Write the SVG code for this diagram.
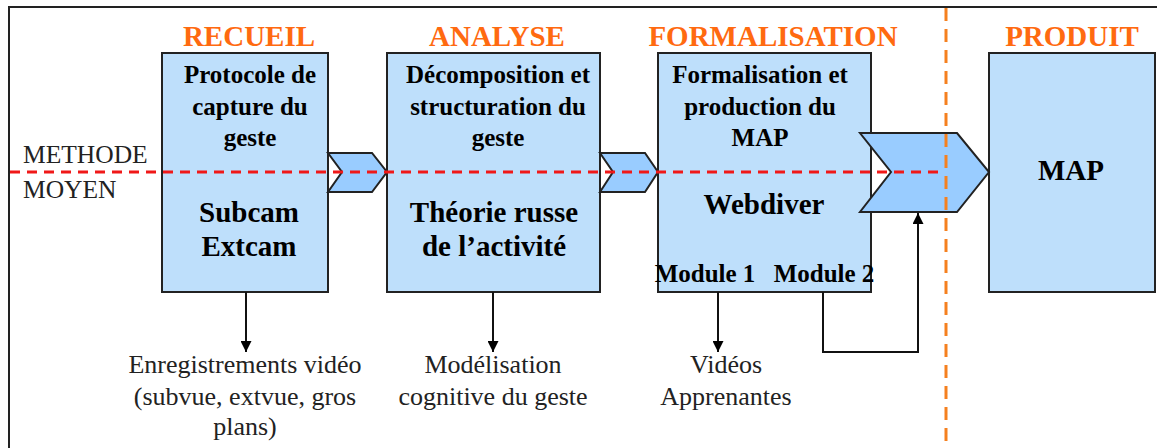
<svg xmlns="http://www.w3.org/2000/svg" width="1157" height="448" viewBox="0 0 1157 448">
<defs>
<style>
.box{fill:#BEDFFB;stroke:#222;stroke-width:2}
.chev{fill:#99CCFF;stroke:#222;stroke-width:2;stroke-linejoin:miter}
.title{font-family:"Liberation Serif",serif;font-weight:bold;font-size:29px;fill:#FF6A10;text-anchor:middle}
.bt{font-family:"Liberation Serif",serif;font-weight:bold;font-size:25px;fill:#000;text-anchor:middle}
.bb{font-family:"Liberation Serif",serif;font-weight:bold;font-size:29px;fill:#000;text-anchor:middle}
.lab{font-family:"Liberation Serif",serif;font-size:26px;fill:#222;text-anchor:middle}
.side{font-family:"Liberation Serif",serif;font-size:25.5px;fill:#222}
.conn{fill:none;stroke:#111;stroke-width:2}
</style>
<marker id="ah" viewBox="0 0 10 10" refX="10" refY="5" markerWidth="5.5" markerHeight="5.5" markerUnits="strokeWidth" orient="auto">
<path d="M0,0 L10,5 L0,10 z" fill="#000"/>
</marker>
</defs>
<rect x="0" y="0" width="1157" height="448" fill="#fff"/>
<rect x="9" y="7" width="1160" height="460" fill="none" stroke="#222" stroke-width="2"/>

<g id="titles">
<text class="title" x="249" y="46">RECUEIL</text>
<text class="title" x="497" y="46">ANALYSE</text>
<text class="title" x="773" y="46">FORMALISATION</text>
<text class="title" x="1072" y="46">PRODUIT</text>
</g>

<g id="side-labels">
<text class="side" x="23" y="163">METHODE</text>
<text class="side" x="23" y="198">MOYEN</text>
</g>

<g id="node-recueil">
<rect class="box" x="162" y="53" width="166" height="239"/>
<text class="bt" x="250" y="83">Protocole de</text>
<text class="bt" x="250" y="115">capture du</text>
<text class="bt" x="250" y="146">geste</text>
<text class="bb" x="249" y="222">Subcam</text>
<text class="bb" x="249" y="256">Extcam</text>
</g>

<g id="node-analyse">
<rect class="box" x="387" y="53" width="213" height="239"/>
<text class="bt" x="498" y="83">Décomposition et</text>
<text class="bt" x="498" y="115">structuration du</text>
<text class="bt" x="498" y="146">geste</text>
<text class="bb" x="494" y="222">Théorie russe</text>
<text class="bb" x="494" y="256">de l’activité</text>
</g>

<g id="node-formalisation">
<rect class="box" x="658" y="53" width="213" height="239"/>
<text class="bt" x="760" y="83">Formalisation et</text>
<text class="bt" x="760" y="115">production du</text>
<text class="bt" x="760" y="146">MAP</text>
<text class="bb" x="764" y="214">Webdiver</text>
<text class="bt" x="705" y="282">Module 1</text>
<text class="bt" x="824" y="282">Module 2</text>
</g>

<g id="node-produit">
<rect class="box" x="989" y="53" width="166" height="239"/>
<text class="bb" x="1071" y="180">MAP</text>
</g>

<g id="chevrons">
<polygon class="chev" points="328,153 372,153 387,172 372,192 328,192 342,172"/>
<polygon class="chev" points="600,153 645,153 658,172 645,192 600,192 613,172"/>
<polygon class="chev" points="860,133 957,133 989,172 957,212 860,212 891,172"/>
</g>

<g id="guides">
<line x1="10" y1="172" x2="940" y2="172" stroke="#F01818" stroke-width="3" stroke-dasharray="10,7"/>
<line x1="946" y1="8" x2="946" y2="448" stroke="#F5801F" stroke-width="3" stroke-dasharray="13,8"/>
</g>

<g id="connectors">
<line class="conn" x1="246" y1="292" x2="246" y2="352" marker-end="url(#ah)"/>
<line class="conn" x1="493" y1="292" x2="493" y2="352" marker-end="url(#ah)"/>
<line class="conn" x1="718" y1="292" x2="718" y2="352" marker-end="url(#ah)"/>
<polyline class="conn" points="823,292 823,352 918,352 918,213" marker-end="url(#ah)"/>
</g>

<g id="outputs">
<text class="lab" x="245" y="373">Enregistrements vidéo</text>
<text class="lab" x="245" y="405">(subvue, extvue, gros</text>
<text class="lab" x="245" y="435">plans)</text>
<text class="lab" x="493" y="373">Modélisation</text>
<text class="lab" x="493" y="405">cognitive du geste</text>
<text class="lab" x="726" y="373">Vidéos</text>
<text class="lab" x="726" y="405">Apprenantes</text>
</g>
</svg>
